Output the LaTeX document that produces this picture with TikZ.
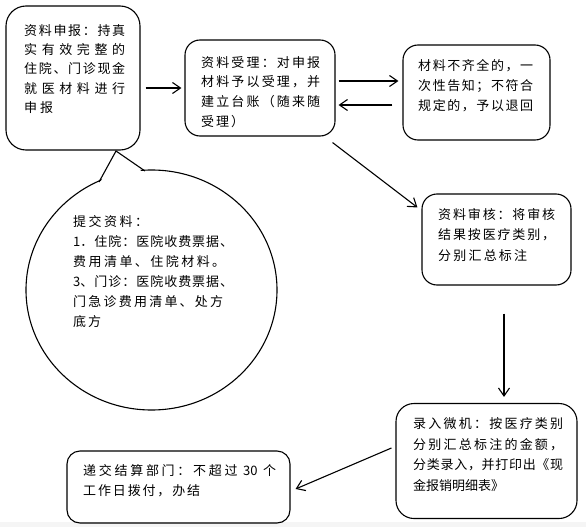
\documentclass[tikz,border=0pt]{standalone}
\usepackage{fontspec}
\setmainfont{Noto Sans CJK SC}
\usetikzlibrary{shapes.geometric,arrows.meta,calc}
\makeatletter
\newcommand\jl[2]{\makebox[#1][s]{\def\jl@sep{}\@tfor\jl@c:=#2\do{\jl@sep\jl@c\def\jl@sep{\hfill}}}}
\makeatother
\tikzset{
  box/.style={draw, line width=1.1pt, rounded corners=15pt, inner sep=0pt},
  txt/.style={anchor=north west, inner sep=0pt, align=left},
  arr/.style={line width=1.1pt, -{Straight Barb[length=8pt,width=11pt]}},
}
\begin{document}
\begin{tikzpicture}[x=1pt,y=-1pt]
\useasboundingbox (0,0) rectangle (586,527);
\fill[gray!8] (0,521.5) rectangle (586,527);
% boxes
\node[box, rounded corners=20pt, minimum width=134pt, minimum height=144pt] (b1) at (73,78) {};
\node[box, minimum width=150pt, minimum height=96pt] (b2) at (260,88) {};
\node[box, minimum width=147pt, minimum height=95pt] (b3) at (476.5,92.5) {};
\node[box, minimum width=149pt, minimum height=91pt] (b4) at (496.5,239.5) {};
\node[box, rounded corners=18pt, minimum width=181pt, minimum height=115pt] (b5) at (486.5,461) {};
\node[box, rounded corners=13pt, minimum width=223pt, minimum height=72pt] (b6) at (178.5,487) {};
% bubble
\node[draw, ellipse, line width=1.1pt, fill=white, minimum width=251pt, minimum height=240pt, inner sep=0pt] (bub) at (151.5,290) {};
\coordinate (lb) at (99,182);
\coordinate (tip) at (116,151);
\coordinate (rb) at (145,171);
\fill[white] ([yshift=-3pt]lb) -- (tip) -- ([yshift=-3pt]rb) -- cycle;
\draw[line width=1.1pt, line join=miter] (lb) -- (tip) -- (rb);
% texts
\node[txt, font=\fontsize{13}{19.3}\selectfont] (t1) at (24,21.4) {%
\strut\jl{101pt}{资料申报：持真}\\
\strut\jl{101pt}{实有效完整的}\\
\strut\jl{101pt}{住院、门诊现金}\\
\strut\jl{101pt}{就医材料进行}\\
\strut\jl{29pt}{申报}};
\node[txt, font=\fontsize{13}{19.7}\selectfont] (t2) at (201,53.1) {%
\strut\jl{119pt}{资料受理：对申报}\\
\strut\jl{119pt}{材料予以受理，并}\\
\strut\jl{119pt}{建立台账（随来随}\\
\strut\jl{43pt}{受理）}};
\node[txt, font=\fontsize{13}{20}\selectfont] (t3) at (418,55.9) {%
\strut\jl{115pt}{材料不齐全的，一}\\
\strut\jl{115pt}{次性告知；不符合}\\
\strut\jl{115pt}{规定的，予以退回}};
\node[txt, font=\fontsize{13}{20.5}\selectfont] (t4) at (438,204.55) {%
\strut\jl{117pt}{资料审核：将审核}\\
\strut\jl{117pt}{结果按医疗类别，}\\
\strut\jl{89pt}{分别汇总标注}};
\node[txt, font=\fontsize{13}{20.8}\selectfont] (t5) at (413,413.6) {%
\strut\jl{150pt}{录入微机：按医疗类别}\\
\strut\jl{150pt}{分别汇总标注的金额，}\\
\strut\jl{150pt}{分类录入，并打印出《现}\\
\strut\jl{90pt}{金报销明细表》}};
\node[txt, font=\fontsize{13}{19.2}\selectfont] (t6) at (83,462.3) {%
\strut\jl{193pt}{递交结算部门：不超过{\ 30\ }个}\\
\strut\jl{117pt}{工作日拨付，办结}};
\node[txt, font=\fontsize{13}{20}\selectfont] (t7) at (73,212.6) {%
\strut\jl{75pt}{提交资料：}\\
\strut\jl{160pt}{{1．}住院：医院收费票据、}\\
\strut\jl{152pt}{费用清单、住院材料。}\\
\strut\jl{160pt}{{3、}门诊：医院收费票据、}\\
\strut\jl{150pt}{门急诊费用清单、处方}\\
\strut\jl{28pt}{底方}};
% arrows
\draw[arr, shorten <=5pt, shorten >=3pt] (b1.east |- b2.west) -- (b2.west);
\draw[arr, shorten <=3pt, shorten >=4pt] (b2.east |- 0,81) -- (b3.west |- 0,81);
\draw[arr, shorten <=10pt, shorten >=3pt] (b3.west |- 0,105) -- (b2.east |- 0,105);
\draw[arr] ([shift={(-3,6)}]b2.south east) -- ([shift={(-4,14)}]b4.north west);
\draw[arr] ($(b4.south)+(7.5,28)$) -- ($(b4.south |- b5.north)+(7.5,-6)$);
\draw[arr] ($(b5.west)+(-4,-13)$) -- ($(b6.east)+(5,2)$);
\end{tikzpicture}
\end{document}
